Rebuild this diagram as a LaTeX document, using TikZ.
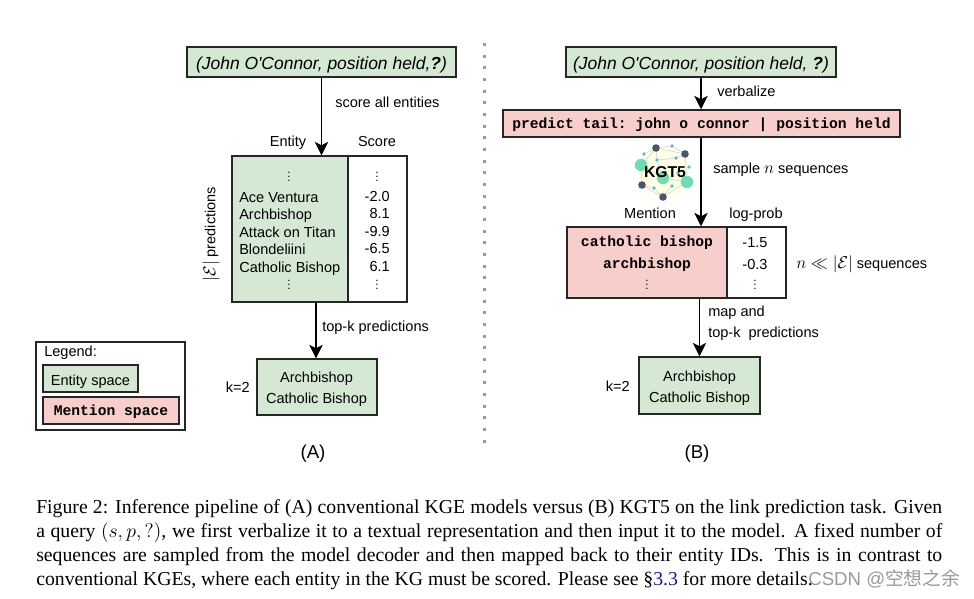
\RequirePackage{fix-cm}
\documentclass[tikz,border=0pt]{standalone}
\usepackage{fontspec}
\setmainfont{Liberation Sans}[Ligatures=TeXOff]
\setmonofont{Liberation Mono}
\newfontfamily\capfont{Liberation Serif}
\newfontfamily\cjkfont{Noto Sans CJK SC}
\usetikzlibrary{calc,arrows.meta}
\definecolor{entitygreen}{HTML}{D5E8D4}
\definecolor{mentionpink}{HTML}{F8CECC}
\definecolor{linkblue}{HTML}{1A1A8C}
\definecolor{logodark}{HTML}{4A5568}
\definecolor{logoteal}{HTML}{6FDDAF}
\definecolor{logoblue}{HTML}{5DB7DA}
\newcommand{\bigmath}{\fontsize{12.8}{15}\selectfont}
\tikzset{
  box/.style={draw=black!85,line width=1.1pt,rectangle,inner sep=0pt},
  ent/.style={box,fill=entitygreen},
  men/.style={box,fill=mentionpink},
  lbl/.style={inner sep=0pt,anchor=base},
  vd/.style={inner sep=0pt,scale=.8,text height=7pt,text depth=0pt},
  flow/.style={-{Stealth[length=10pt,width=10pt,inset=2.5pt]},line width=1.1pt,black},
  dotlink/.style={draw=black!18,line width=.4pt},
  qfont/.style={font=\fontsize{13.1}{16}\selectfont\itshape,text height=12pt,text depth=1pt},
  mfont/.style={font=\fontsize{11}{13}\selectfont\ttfamily\bfseries}
}
\begin{document}
\begin{tikzpicture}[x=.75pt,y=-.75pt,every node/.style={font=\fontsize{10.9}{15.75}\selectfont}]
\useasboundingbox (0,0) rectangle (974,599);

% left pipeline
\node [ent,qfont,minimum width=201.75pt,minimum height=22.5pt] (queryA) at (321.5,62) {(John O'Connor, position held,\textbf{?})};
\node [ent,minimum width=87pt,minimum height=109.5pt] (entity) at (290,229) {};
\node [box,minimum width=44.25pt,minimum height=109.5pt] (score) at (377.5,229) {};
\node [ent,minimum width=90pt,minimum height=42pt] (resultA) at (317,387) {};
\node [inner sep=0pt,align=center] (resultAtext) at (316.5,389) {Archbishop\\Catholic Bishop};
\draw[flow] (queryA.south) -- (queryA.south |- entity.north);
\draw[flow] ($ (resultA.north |- entity.south)-(1,0)$) -- ($ (resultA.north)-(1,0)$);
\node [lbl,anchor=base west] (scoreall) at (335,108) {score all entities};
\node [lbl] (entityhead) at (288,146.5) {Entity};
\node [lbl] (scorehead) at (377,146.5) {Score};
\node [inner sep=0pt,rotate=90] (predcount) at (211,234) {{\bigmath$|\mathcal{E}|$} predictions};
\node [lbl,anchor=base west] (topkA) at (322,331) {top-k predictions};
\node [lbl,anchor=base east] (kA) at (250,392) {k=2};
\node [lbl,font=\fontsize{14}{16}\selectfont] (capA) at (313,458) {(A)};

\node [vd] (entdotsT) at (289,178) {$\vdots$};
\node [vd] (scodotsT) at (377,178) {$\vdots$};
\foreach \y/\ent/\sco/\nm in {202/Ace Ventura/-2.0/a,219.6/Archbishop/8.1/b,237/Attack on Titan/-9.9/c,254.7/Blondeliini/-6.5/d,272.3/Catholic Bishop/6.1/e}{
  \node [lbl,anchor=base west] (ent\nm) at (239,\y) {\ent};
  \node [lbl,anchor=base east] (sco\nm) at (390,\y-1) {\sco};
}
\node [vd] (entdotsB) at (289,286) {$\vdots$};
\node [vd] (scodotsB) at (377,286) {$\vdots$};

% legend
\node [box,minimum width=111.75pt,minimum height=66pt] (legend) at (110.5,386) {};
\node [lbl,anchor=base west] (legendhead) at (44,356) {Legend:};
\node [ent,text height=10.8pt,text depth=1pt,minimum width=71.25pt,minimum height=20.25pt] (legendent) at (90.5,378.5) {Entity space};
\node [men,mfont,text height=8.8pt,text depth=1pt,minimum width=102pt,minimum height=20.25pt] (legendmen) at (111,410.5) {Mention space};

% separator
\draw[line width=2.25pt,draw=black!40,dash pattern=on 2.25pt off 6.5pt] (484,43) coordinate (septop) -- (484,443) coordinate (sepbot);

% right pipeline
\node [ent,qfont,minimum width=202.5pt,minimum height=22.5pt] (queryB) at (701,62) {(John O'Connor, position held, \textbf{?})};
\node [men,mfont,text height=8.2pt,text depth=1pt,minimum width=297.75pt,minimum height=20.25pt] (prompt) at (701.5,123.5) {predict tail: john o connor | position held};
\node [men,minimum width=120pt,minimum height=53.25pt] (mention) at (647,262.5) {};
\node [box,minimum width=44.25pt,minimum height=53.25pt] (logprob) at (756.5,262.5) {};
\node [ent,minimum width=90.75pt,minimum height=42.75pt] (resultB) at (699.5,385.5) {};
\node [inner sep=0pt,align=center] (resultBtext) at (699.5,388) {Archbishop\\Catholic Bishop};
\draw[flow] (queryB.south) -- (queryB.south |- prompt.north);
\draw[flow] (queryB.south |- prompt.south) -- (queryB.south |- mention.north);
\draw[flow] (resultB.north |- mention.south) -- (resultB.north);
\node [lbl,anchor=base west] (verbalize) at (717,96.5) {verbalize};
\node [lbl,anchor=base west] (sample) at (713,174) {sample {\bigmath$n$} sequences};
\node [lbl] (mentionhead) at (650,218) {Mention};
\node [lbl] (logprobhead) at (756,218) {log-prob};
\node [lbl,anchor=base west] (ncount) at (796,268) {{\bigmath$n \ll |\mathcal{E}|$} sequences};
\node [inner sep=0pt,anchor=west,align=left] (topkB) at (708,323) {map and\\top-k\ \ predictions};
\node [lbl,anchor=base east] (kB) at (630,391) {k=2};
\node [lbl,font=\fontsize{14}{16}\selectfont] (capB) at (697,458) {(B)};

\foreach \y/\men/\lp/\nm in {246.7/catholic bishop/-1.5/a,268/archbishop/-0.3/b}{
  \node [lbl,mfont] (men\nm) at (647,\y) {\men};
  \node [lbl] (lp\nm) at (755,\y+1) {\lp};
}
\node [vd] (mendots) at (647,286) {$\vdots$};
\node [vd] (lpdots) at (755,286) {$\vdots$};

% logo
\fill[yellow!10] (664,172) circle (25);
\foreach \x/\y/\nm in {656/148/p,685/154/q,642/185/r,663/197/s,641/165/t,663/178/u,687/182/v,672/146/w,644/154/f,657/160/g,676/158/h,689/167/i,678/173/j,654/188/k,672/186/l}
  \coordinate (\nm) at (\x,\y);
\foreach \a/\b in {p/q,p/f,p/t,p/g,q/h,q/v,q/w,t/r,r/s,s/v,r/k,s/k,s/l,g/h,t/u,u/v,g/u,f/t,w/p}
  \draw[dotlink] (\a) -- (\b);
\foreach \c in {p,q,r,s}
  \fill[logodark] (\c) circle (3.8);
\foreach \c in {t,u,v}
  \fill[logoteal] (\c) circle (6.2);
\foreach \c in {w,f,g,h,i,j,k,l}
  \fill[logoblue] (\c) circle (1.8);
\node [inner sep=0pt,font=\fontsize{11.8}{14}\selectfont\bfseries] (kgt) at (665,172) {KGT5};

% caption
\node [inner sep=0pt,anchor=north west,text width=679.5pt,align=justify,font=\fontsize{14.8}{18}\selectfont\capfont] (caption) at (36,499.5) {Figure 2: Inference pipeline of (A) conventional KGE models versus (B) KGT5 on the link prediction task. Given\linebreak a query $(s,p,?)$, we first verbalize it to a textual representation and then input it to the model. A fixed number of\linebreak sequences are sampled from the model decoder and then mapped back to their entity IDs. This is in contrast to\linebreak conventional KGEs, where each entity in the KG must be scored. Please see §\textcolor{linkblue}{3.3} for more details.};
\node [lbl,anchor=base west,text=black!40,font=\fontsize{14}{16}\selectfont] (watermark) at (808,585) {CSDN @{\cjkfont 空想之余}};
\end{tikzpicture}
\end{document}
